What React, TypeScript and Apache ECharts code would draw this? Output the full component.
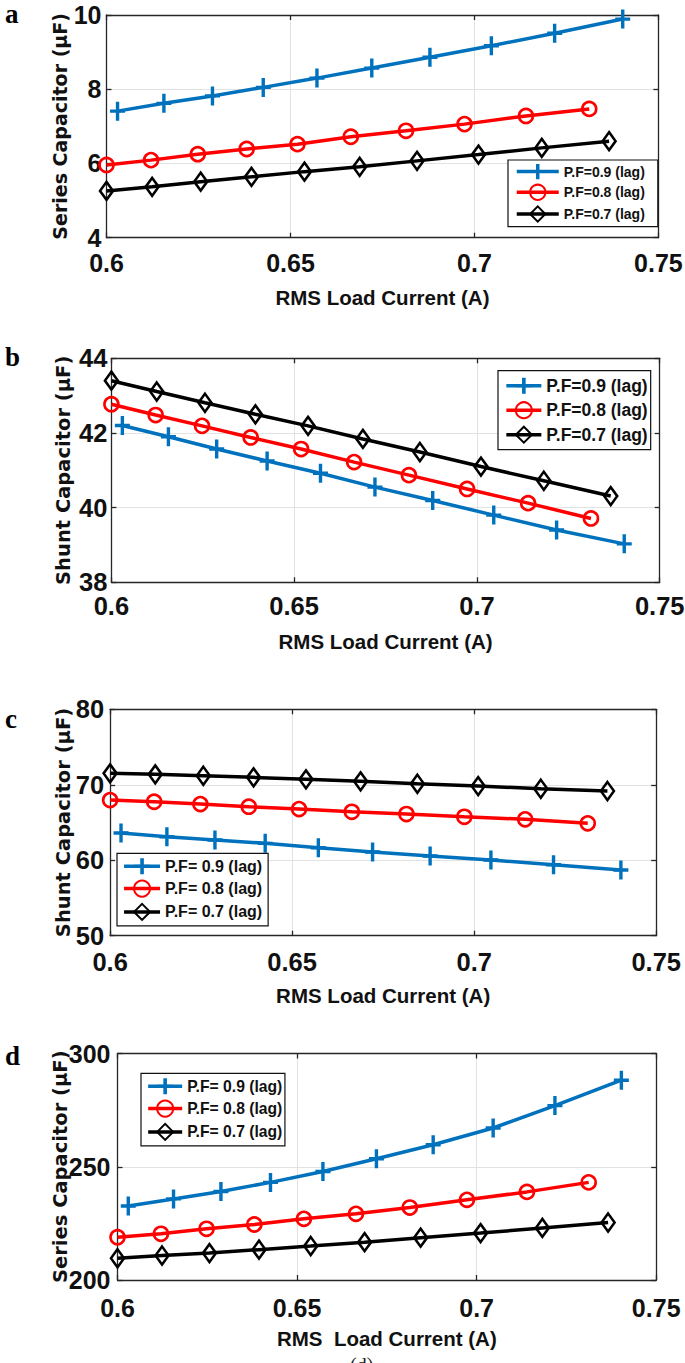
import React, { useEffect, useRef } from "react";
import * as echarts from "echarts";

// ---- data ----
const X_PF09 = [0.603, 0.6156, 0.6288, 0.6426, 0.6572, 0.6721, 0.6879, 0.7046, 0.7218, 0.7403];
const X_PF08 = [0.6, 0.6121, 0.6248, 0.6381, 0.6519, 0.6664, 0.6814, 0.6973, 0.714, 0.7312];
const X_PF07 = [0.6, 0.6124, 0.6256, 0.6394, 0.6538, 0.6688, 0.6844, 0.7011, 0.7183, 0.7366];

const A_PF09 = [7.41, 7.62, 7.82, 8.05, 8.3, 8.57, 8.86, 9.17, 9.51, 9.89];
const A_PF08 = [5.96, 6.09, 6.25, 6.39, 6.52, 6.72, 6.88, 7.06, 7.28, 7.47];
const A_PF07 = [5.26, 5.37, 5.51, 5.64, 5.78, 5.91, 6.07, 6.24, 6.42, 6.6];

const B_PF09 = [42.2, 41.9, 41.57, 41.25, 40.92, 40.55, 40.19, 39.8, 39.4, 39.03];
const B_PF08 = [42.77, 42.48, 42.19, 41.88, 41.57, 41.22, 40.87, 40.5, 40.12, 39.71];
const B_PF07 = [43.4, 43.11, 42.81, 42.5, 42.19, 41.84, 41.49, 41.1, 40.72, 40.31];

const C_PF09 = [63.6, 63.11, 62.68, 62.24, 61.66, 61.09, 60.56, 60.03, 59.4, 58.7];
const C_PF08 = [67.97, 67.75, 67.44, 67.09, 66.78, 66.42, 66.12, 65.76, 65.42, 64.89];
const C_PF07 = [71.51, 71.38, 71.19, 70.98, 70.72, 70.45, 70.13, 69.83, 69.47, 69.17];

const D_PF09 = [232.7, 235.8, 239.1, 243.1, 247.9, 253.5, 259.7, 267.1, 277.0, 288.2];
const D_PF08 = [218.9, 220.4, 222.6, 224.5, 227.0, 229.2, 232.0, 235.4, 238.9, 243.1];
const D_PF07 = [209.6, 210.8, 211.9, 213.4, 215.0, 216.7, 218.7, 220.7, 223.0, 225.4];

const X_RANGE = [0.6, 0.75];
const X_STEP = 0.05;
const A_Y = [4, 10, 2];
const B_Y = [38, 44, 2];
const C_Y = [50, 80, 10];
const D_Y = [200, 300, 50];

const NAMES_AB = ["P.F=0.9 (lag)", "P.F=0.8 (lag)", "P.F=0.7 (lag)"];
const NAMES_CD = ["P.F= 0.9 (lag)", "P.F= 0.8 (lag)", "P.F= 0.7 (lag)"];
const PANEL_LETTERS = ["a", "b", "c", "d"];
const Y_TITLES = ["Series Capacitor (\u03bcF)", "Shunt Capacitor (\u03bcF)", "Shunt Capacitor (\u03bcF)", "Series Capacitor (\u03bcF)"];
const X_TITLES = ["RMS Load Current (A)", "RMS Load Current (A)", "RMS Load Current (A)", "RMS  Load Current (A)"];
const CAPTION = "(d)";

// ---- styling / layout ----
const BLUE = "#0072BD";
const RED = "#FF0000";
const BLACK = "#000000";
const FRAME = "#262626";
const SANS = "'Liberation Sans', Arial, sans-serif";
const WIDE = "'DejaVu Sans', Verdana, sans-serif";
const SERIF = "'Liberation Serif', 'Times New Roman', serif";
const PLUS =
  "path://M-1.7,-9.5L1.7,-9.5L1.7,-1.7L7.5,-1.7L7.5,1.7L1.7,1.7L1.7,9.5L-1.7,9.5L-1.7,1.7L-7.5,1.7L-7.5,-1.7L-1.7,-1.7Z";

const PANELS = [
  {
    yr: A_Y, data: [A_PF09, A_PF08, A_PF07], names: NAMES_AB,
    grid: { left: 106.5, top: 15, width: 551.9, height: 222.7 },
    tickFont: 25, yMargin: 5, xMargin: 13, yGap: 37, yFont: 19, xGap: 49,
    legend: { left: 508, top: 160, padding: [4, 13, 4, 7], itemWidth: 42, itemHeight: 19, itemGap: 4.5, fontSize: 14 },
    letterTop: 0,
  },
  {
    yr: B_Y, data: [B_PF09, B_PF08, B_PF07], names: NAMES_AB,
    grid: { left: 111.4, top: 358.3, width: 548.3, height: 224 },
    tickFont: 25.5, yMargin: 4, xMargin: 11, yGap: 38, yFont: 19.5, xGap: 49,
    legend: { left: 498, top: 370.7, padding: [6, 3, 6, 6.6], itemWidth: 35, itemHeight: 20, itemGap: 6.5, fontSize: 17.5 },
    letterTop: 343,
  },
  {
    yr: C_Y, data: [C_PF09, C_PF08, C_PF07], names: NAMES_CD,
    grid: { left: 110.1, top: 709.3, width: 546.1, height: 226.4 },
    tickFont: 25.5, yMargin: 6, xMargin: 13, yGap: 37, yFont: 19.5, xGap: 49,
    legend: { left: 117, top: 853.3, padding: [5, 6, 5, 5.3], itemWidth: 36, itemHeight: 20, itemGap: 5.3, fontSize: 16 },
    letterTop: 705,
  },
  {
    yr: D_Y, data: [D_PF09, D_PF08, D_PF07], names: NAMES_CD,
    grid: { left: 117.5, top: 1053.5, width: 538.7, height: 226.5 },
    tickFont: 25, yMargin: 7, xMargin: 15, yGap: 47.5, yFont: 19.5, xGap: 48,
    legend: { left: 141, top: 1073.3, padding: [5, 2.6, 5, 5.4], itemWidth: 34, itemHeight: 20, itemGap: 5.3, fontSize: 15.7 },
    letterTop: 1042,
  },
];

const SERIES_STYLE = [
  {
    xs: X_PF09, symbol: PLUS, symbolSize: [15, 19],
    itemStyle: { color: BLUE, borderWidth: 0 }, line: BLUE,
  },
  {
    xs: X_PF08, symbol: "circle", symbolSize: 14,
    itemStyle: { color: "rgba(255,255,255,0)", borderColor: RED, borderWidth: 2.6 }, line: RED,
  },
  {
    xs: X_PF07, symbol: "diamond", symbolSize: [13, 18],
    itemStyle: { color: "rgba(255,255,255,0)", borderColor: BLACK, borderWidth: 2.6 }, line: BLACK,
  },
];

function buildOption() {
  const grid: any[] = [];
  const xAxis: any[] = [];
  const yAxis: any[] = [];
  const series: any[] = [];
  const legend: any[] = [];
  const graphic: any[] = [];
  const frameLine = { show: true, onZero: false, lineStyle: { color: FRAME, width: 1.3 } };
  const tick = { show: true, inside: true, length: 5, lineStyle: { color: FRAME, width: 1.3 } };
  const split = { show: true, lineStyle: { color: "#e2e2e2", width: 1 } };

  PANELS.forEach((p, i) => {
    grid.push({ ...p.grid, containLabel: false, outerBoundsMode: "none" });
    const labelStyle = { fontSize: p.tickFont, fontWeight: "bold", fontFamily: SANS, color: "#111" };
    xAxis.push({
      type: "value", gridIndex: i, position: "bottom",
      min: X_RANGE[0], max: X_RANGE[1], interval: X_STEP,
      axisLine: frameLine, axisTick: tick, splitLine: split,
      axisLabel: { margin: p.xMargin, ...labelStyle },
      name: X_TITLES[i], nameLocation: "middle", nameGap: p.xGap, nameMoveOverlap: false,
      nameTextStyle: { fontSize: 20.5, fontWeight: "bold", fontFamily: SANS, color: "#111" },
    });
    xAxis.push({
      type: "value", gridIndex: i, position: "top",
      min: X_RANGE[0], max: X_RANGE[1], interval: X_STEP,
      axisLine: frameLine, axisTick: tick, splitLine: { show: false }, axisLabel: { show: false },
    });
    yAxis.push({
      type: "value", gridIndex: i, position: "left",
      min: p.yr[0], max: p.yr[1], interval: p.yr[2],
      axisLine: frameLine, axisTick: tick, splitLine: split,
      axisLabel: { margin: p.yMargin, ...labelStyle },
      name: Y_TITLES[i], nameLocation: "middle", nameGap: p.yGap, nameMoveOverlap: false,
      nameTextStyle: { fontSize: p.yFont, fontWeight: "bold", fontFamily: WIDE, color: "#111" },
    });
    yAxis.push({
      type: "value", gridIndex: i, position: "right",
      min: p.yr[0], max: p.yr[1], interval: p.yr[2],
      axisLine: frameLine, axisTick: tick, splitLine: { show: false }, axisLabel: { show: false },
    });
    SERIES_STYLE.forEach((s, k) => {
      series.push({
        type: "line", name: p.names[k],
        xAxisIndex: 2 * i, yAxisIndex: 2 * i,
        data: s.xs.map((x, j) => [x, p.data[k][j]]),
        symbol: s.symbol, symbolSize: s.symbolSize, showSymbol: true, symbolKeepAspect: false,
        itemStyle: s.itemStyle,
        lineStyle: { color: s.line, width: 3.5 },
        z: 3 + k,
      });
    });
    const L = p.legend;
    legend.push({
      data: p.names, orient: "vertical", left: L.left, top: L.top, padding: L.padding,
      itemWidth: L.itemWidth, itemHeight: L.itemHeight, itemGap: L.itemGap,
      backgroundColor: "#fff", borderColor: "#111", borderWidth: 1.2, borderRadius: 0,
      selectedMode: false, align: "left",
      lineStyle: { width: 3.5 },
      textStyle: { fontSize: L.fontSize, fontWeight: "bold", fontFamily: SANS, color: "#111" },
    });
    graphic.push({
      type: "text", left: 5, top: p.letterTop,
      style: { text: PANEL_LETTERS[i], font: `bold 27px ${SERIF}`, fill: "#000" },
    });
  });
  graphic.push({
    type: "text", left: 350, top: 1355,
    style: { text: CAPTION, font: `20px ${SERIF}`, fill: "#222" },
  });

  return { animation: false, backgroundColor: "#fff", grid, xAxis, yAxis, series, legend, graphic };
}

export default function App() {
  const ref = useRef<HTMLDivElement>(null);
  useEffect(() => {
    if (!ref.current) return;
    const chart = echarts.init(ref.current, undefined, { renderer: "svg" });
    chart.setOption(buildOption() as any);
    return () => chart.dispose();
  }, []);
  return (
    <div
      ref={ref}
      style={{ position: "absolute", left: 0, top: 0, width: 685, height: 1363, background: "#fff" }}
    />
  );
}
